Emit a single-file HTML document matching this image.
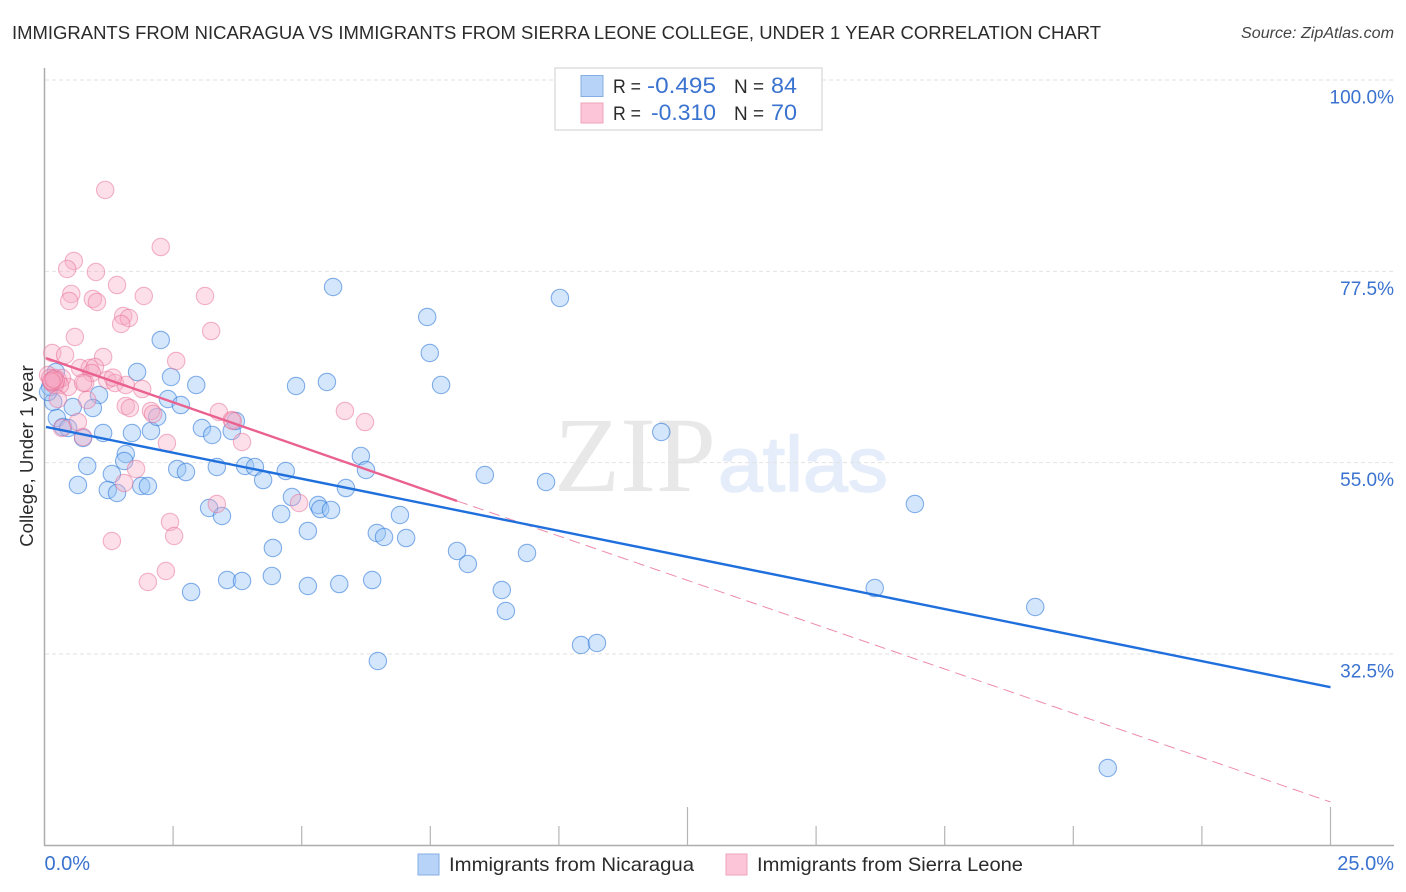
<!DOCTYPE html>
<html>
<head>
<meta charset="utf-8">
<style>
html,body{margin:0;padding:0;background:#fff;width:1406px;height:892px;overflow:hidden}
svg{display:block;font-family:"Liberation Sans",sans-serif}
</style>
</head>
<body>
<svg id="chart" width="1406" height="892" viewBox="0 0 1406 892" xmlns="http://www.w3.org/2000/svg">
  <text x="12" y="39" font-size="18.5" fill="#2b2b2b" textLength="1089" lengthAdjust="spacingAndGlyphs">IMMIGRANTS FROM NICARAGUA VS IMMIGRANTS FROM SIERRA LEONE COLLEGE, UNDER 1 YEAR CORRELATION CHART</text>
  <text x="1241" y="38" font-size="15.5" font-style="italic" fill="#444" textLength="153" lengthAdjust="spacingAndGlyphs">Source: ZipAtlas.com</text>
  <g>
    <text x="554" y="491" font-family="'Liberation Serif',serif" font-size="107" fill="#e8e8e8" textLength="162" lengthAdjust="spacingAndGlyphs">ZIP</text>
    <text x="718" y="491" font-size="78" fill="#e4edf9" stroke="#e4edf9" stroke-width="1.5" textLength="170" lengthAdjust="spacingAndGlyphs">atlas</text>
  </g>
  <g id="grid"></g>
  <g id="axes"></g>
  <g id="blue-points"></g>
  <g id="pink-points"></g>
  <g id="trends"></g>
  <text transform="translate(33,456) rotate(-90)" font-size="18.7" fill="#2b2b2b" text-anchor="middle">College, Under 1 year</text>
  <g>
    <rect x="555" y="68" width="267" height="62" fill="#fff" stroke="#dedede" stroke-width="1.5"/>
    <rect x="581" y="75.5" width="22" height="21" fill="#b7d3f7" stroke="#86aee6" stroke-width="1"/>
    <rect x="581" y="103" width="22" height="20" fill="#fcc5d8" stroke="#f0a3bd" stroke-width="1"/>
    <text x="613" y="93" font-size="19.5" fill="#2b2b2b" textLength="28" lengthAdjust="spacingAndGlyphs">R =</text>
    <text x="647" y="93" font-size="22" fill="#3a72cf" textLength="69" lengthAdjust="spacingAndGlyphs">-0.495</text>
    <text x="734" y="93" font-size="19.5" fill="#2b2b2b" textLength="30" lengthAdjust="spacingAndGlyphs">N =</text>
    <text x="771" y="93" font-size="22" fill="#3a72cf" textLength="26" lengthAdjust="spacingAndGlyphs">84</text>
    <text x="613" y="120" font-size="19.5" fill="#2b2b2b" textLength="28" lengthAdjust="spacingAndGlyphs">R =</text>
    <text x="651" y="120" font-size="22" fill="#3a72cf" textLength="65" lengthAdjust="spacingAndGlyphs">-0.310</text>
    <text x="734" y="120" font-size="19.5" fill="#2b2b2b" textLength="30" lengthAdjust="spacingAndGlyphs">N =</text>
    <text x="771" y="120" font-size="22" fill="#3a72cf" textLength="26" lengthAdjust="spacingAndGlyphs">70</text>
  </g>
  <g>
    <g>
      <rect x="418" y="854" width="21" height="21" fill="#b7d3f7" stroke="#86aee6" stroke-width="1"/>
      <text x="449" y="871" font-size="19.5" fill="#2b2b2b" textLength="245" lengthAdjust="spacingAndGlyphs">Immigrants from Nicaragua</text>
    </g>
    <g>
      <rect x="726" y="854" width="21" height="21" fill="#fcc5d8" stroke="#f0a3bd" stroke-width="1"/>
      <text x="757" y="871" font-size="19.5" fill="#2b2b2b" textLength="266" lengthAdjust="spacingAndGlyphs">Immigrants from Sierra Leone</text>
    </g>
  </g>
</svg>
<script>
// Chart data (percent units)
const blueX = [1.80,2.46,2.95,4.89,2.26,1.06,0.94,0.55,0.17,0.24,0.36,0.46,0.75,1.14,1.70,2.07,2.19,2.40,2.65,3.06,3.26,3.64,3.72,0.83,0.65,1.58,1.55,1.31,1.23,1.41,1.88,2.01,2.58,2.75,3.35,3.90,4.09,4.69,4.25,4.81,3.20,3.45,4.60,5.61,7.44,7.49,10.02,5.49,7.71,11.99,6.15,6.25,5.86,8.56,9.75,16.92,5.32,5.36,5.57,6.91,5.12,6.46,6.60,7.03,4.44,8.02,9.38,8.23,3.55,3.84,4.42,5.12,5.73,6.37,2.85,8.89,16.14,19.26,8.97,10.43,10.74,6.48,20.67,0.22,0.11,0.07];
const blueY = [65.66,65.08,64.14,64.02,69.43,62.96,61.43,61.55,62.14,60.25,59.20,59.08,57.90,58.49,58.49,58.73,60.37,62.49,61.78,59.08,58.26,58.73,59.90,54.61,52.38,56.02,55.20,53.67,51.79,51.44,52.26,52.26,54.26,53.90,54.49,54.61,54.49,54.02,52.96,50.96,49.67,48.73,48.97,75.66,72.13,67.90,74.37,64.49,64.14,58.61,55.79,54.14,52.02,53.55,52.73,50.14,50.02,49.55,49.44,48.85,46.97,46.73,46.26,46.14,44.97,44.62,44.38,43.09,41.20,41.09,41.68,40.50,40.73,41.20,39.79,40.03,40.26,38.03,37.56,33.56,33.80,31.68,19.10,65.66,63.90,63.31];
const pinkX = [0.15,0.40,1.14,2.56,0.69,0.88,0.98,0.92,1.22,1.37,1.58,1.90,0.79,0.83,0.46,0.07,0.20,0.26,0.15,0.34,0.30,0.20,0.26,0.65,0.34,0.75,1.58,1.66,2.07,2.11,3.39,3.64,3.84,2.38,1.78,1.55,3.35,4.95,2.44,2.52,1.31,2.36,2.01,1.18,2.26,0.57,0.44,1.00,1.41,1.93,3.12,0.52,0.48,0.94,1.02,1.53,1.64,1.49,3.24,0.59,5.84,6.23,3.66,0.11,0.22,0.14,0.75,1.33,0.13,0.18];
const pinkY = [67.90,67.66,67.43,66.96,66.13,66.13,66.25,65.55,64.72,64.37,64.14,63.66,64.37,62.37,63.90,65.31,64.96,64.72,64.37,64.96,64.14,64.14,62.49,59.78,59.08,58.02,61.67,61.43,61.08,60.73,60.96,60.02,57.43,57.31,54.26,52.61,50.14,50.26,48.03,46.38,45.79,42.26,40.97,87.07,80.36,78.72,77.78,77.42,75.89,74.60,74.60,74.84,74.01,74.25,73.90,72.25,72.01,71.31,70.48,69.78,61.08,59.78,59.90,64.96,64.60,64.50,64.40,65.00,64.60,64.80];
const blueTrendX = [0.03,25];
const blueTrendY = [59.2,28.6];
const pinkSolidX = [0.03,8.02];
const pinkSolidY = [67.3,50.5];
const pinkDashX = [8.02,25];
const pinkDashY = [50.5,15.1];
const yGridValues = [100,77.5,55,32.5];
const yTickLabels = ['100.0%','77.5%','55.0%','32.5%'];
const xTickValues = [2.5,5,7.5,10,12.5,15,17.5,20,22.5,25];
const xMajorTicks = [12.5,25];
const xEndValues = [0,25];
const xEndLabels = ['0.0%','25.0%'];

const NS = 'http://www.w3.org/2000/svg';
function xScale(v){ return 44.5 + v * 51.44; }
function yScale(v){ return 80 + (100 - v) * 8.504; }
function make(parent, tag, attrs){
  const el = document.createElementNS(NS, tag);
  for (const k in attrs) el.setAttribute(k, attrs[k]);
  parent.appendChild(el);
  return el;
}
const gridG = document.getElementById('grid');
const axesG = document.getElementById('axes');
const blueG = document.getElementById('blue-points');
const pinkG = document.getElementById('pink-points');
const trendG = document.getElementById('trends');

yGridValues.forEach(function(v, i){
  const line = make(gridG, 'line', {x1:45, x2:1394, y1:yScale(v), y2:yScale(v), stroke:'#e2e2e2', 'stroke-width':1, 'stroke-dasharray':'4 3'});
  
  
  const label = make(axesG, 'text', {x:1394, y:yScale(v) + 23.5, 'font-size':19, fill:'#3a72cf', 'text-anchor':'end'});
  label.textContent = yTickLabels[i];
  
  
});

const yAxis = make(axesG, 'line', {x1:44.5, x2:44.5, y1:68, y2:845.5, stroke:'#adadad', 'stroke-width':1.5});


const xAxis = make(axesG, 'line', {x1:44, x2:1394, y1:845.5, y2:845.5, stroke:'#adadad', 'stroke-width':1.5});



xTickValues.forEach(function(v){
  const top = xMajorTicks.indexOf(v) >= 0 ? 807 : 826;
  const tick = make(axesG, 'line', {x1:xScale(v), x2:xScale(v), y1:top, y2:845, stroke:'#b5b5b5', 'stroke-width':1.2});
  
  
});
xEndValues.forEach(function(v, i){
  const label = make(axesG, 'text', {x: i === 0 ? xScale(v) : 1394, y:870, 'font-size':20, fill:'#3a72cf', 'text-anchor': i === 0 ? 'start' : 'end'});
  label.textContent = xEndLabels[i];
  
  
});

blueX.forEach(function(v, i){
  const c = make(blueG, 'circle', {cx:xScale(v), cy:yScale(blueY[i]), r:8.7, fill:'rgba(150,195,245,0.42)', stroke:'rgba(40,115,215,0.55)', 'stroke-width':1.1});
  
  
});
pinkX.forEach(function(v, i){
  const c = make(pinkG, 'circle', {cx:xScale(v), cy:yScale(pinkY[i]), r:8.7, fill:'rgba(248,170,196,0.38)', stroke:'rgba(232,110,150,0.5)', 'stroke-width':1.1});
  
  
});

const pinkDash = make(trendG, 'line', {x1:xScale(pinkDashX[0]), y1:yScale(pinkDashY[0]), x2:xScale(pinkDashX[1]), y2:yScale(pinkDashY[1]), stroke:'#ec8aaa', 'stroke-width':1, 'stroke-dasharray':'11 6'});


const blueTrend = make(trendG, 'line', {x1:xScale(blueTrendX[0]), y1:yScale(blueTrendY[0]), x2:xScale(blueTrendX[1]), y2:yScale(blueTrendY[1]), stroke:'#1f6fdc', 'stroke-width':2.4});


const pinkSolid = make(trendG, 'line', {x1:xScale(pinkSolidX[0]), y1:yScale(pinkSolidY[0]), x2:xScale(pinkSolidX[1]), y2:yScale(pinkSolidY[1]), stroke:'#ea6190', 'stroke-width':2.4});


</script>
</body>
</html>
